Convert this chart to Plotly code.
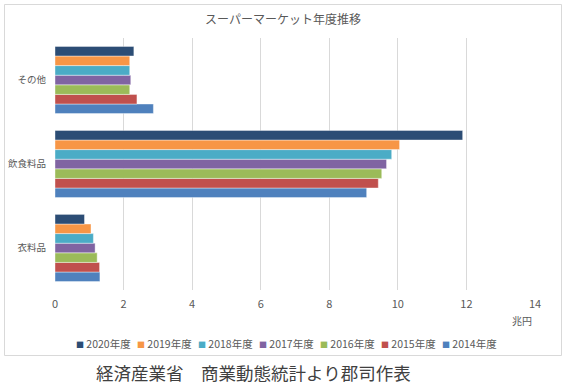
import plotly.graph_objects as go

categories = ["その他", "飲食料品", "衣料品"]
years = ["2014年度", "2015年度", "2016年度", "2017年度", "2018年度", "2019年度", "2020年度"]
# values in 兆円, order: その他, 飲食料品, 衣料品
v2014 = [2.87, 9.09, 1.31]
v2015 = [2.39, 9.43, 1.30]
v2016 = [2.18, 9.53, 1.23]
v2017 = [2.21, 9.67, 1.17]
v2018 = [2.18, 9.82, 1.12]
v2019 = [2.18, 10.05, 1.05]
v2020 = [2.30, 11.89, 0.86]
series = [v2014, v2015, v2016, v2017, v2018, v2019, v2020]
colors = ["#4F81BD", "#C0504D", "#9BBB59", "#8064A2", "#4BACC6", "#F79646", "#2C4D75"]

FONT = "Noto Sans CJK JP"
fig = go.Figure()
for name, vals, col in zip(years, series, colors):
    fig.add_trace(go.Bar(
        y=categories, x=vals, name=name, orientation="h", showlegend=False,
        marker=dict(color=col, line=dict(color="rgba(255,255,255,0.5)", width=0.8)),
    ))

W, H = 567, 388
L, R, T, B = 55, 32, 38, 98
pw, ph = W - L - R, H - T - B

def px(x):
    return (x - L) / pw

def py(y):
    return (H - B - y) / ph

annotations = [
    dict(text="スーパーマーケット年度推移", xref="paper", yref="paper", x=px(283), y=py(18),
         xanchor="center", yanchor="middle", showarrow=False,
         font=dict(size=12, color="#595959", family=FONT)),
    dict(text="兆円", xref="paper", yref="paper", x=px(522), y=py(320),
         xanchor="center", yanchor="middle", showarrow=False,
         font=dict(size=10, color="#595959", family=FONT)),
    dict(text="経済産業省　商業動態統計より郡司作表", xref="paper", yref="paper", x=px(253), y=py(372),
         xanchor="center", yanchor="middle", showarrow=False,
         font=dict(size=17.5, color="#404040", family=FONT)),
]
# custom legend (2020 first)
leg_x0, leg_step = 74, 61
for i, (name, col) in enumerate(zip(years[::-1], colors[::-1])):
    annotations.append(dict(
        text=f"<span style='color:{col};font-size:8px'>■</span> {name}",
        xref="paper", yref="paper", x=px(leg_x0 + i * leg_step), y=py(343),
        xanchor="left", yanchor="middle", showarrow=False,
        font=dict(size=10.5, color="#595959", family=FONT)))

fig.update_layout(
    width=W, height=H,
    margin=dict(l=L, r=R, t=T, b=B, autoexpand=False),
    paper_bgcolor="white", plot_bgcolor="white",
    barmode="group", bargap=0.2, bargroupgap=0,
    font=dict(family=FONT, color="#595959", size=11),
    showlegend=False,
    xaxis=dict(range=[0, 14], dtick=2, tick0=0, showgrid=True, gridcolor="#D9D9D9",
               gridwidth=1, zeroline=False, showline=False, ticks="", automargin=False,
               ticklabelstandoff=6,
               tickfont=dict(size=11, color="#595959"), fixedrange=True),
    yaxis=dict(categoryorder="array", categoryarray=categories[::-1], showgrid=False,
               zeroline=False, showline=False, ticks="", automargin=False,
               ticklabelstandoff=8,
               tickfont=dict(size=9.5, color="#595959"), fixedrange=True),
    shapes=[dict(type="rect", xref="paper", yref="paper",
                 x0=px(4.5), x1=px(561.5), y0=py(355.5), y1=py(4.5),
                 line=dict(color="#D9D9D9", width=1), fillcolor="rgba(0,0,0,0)", layer="below")],
    annotations=annotations,
)
fig.write_html("out.html", config={"displayModeBar": False},
               post_script="document.body.style.margin='0';document.body.style.overflow='hidden';")
